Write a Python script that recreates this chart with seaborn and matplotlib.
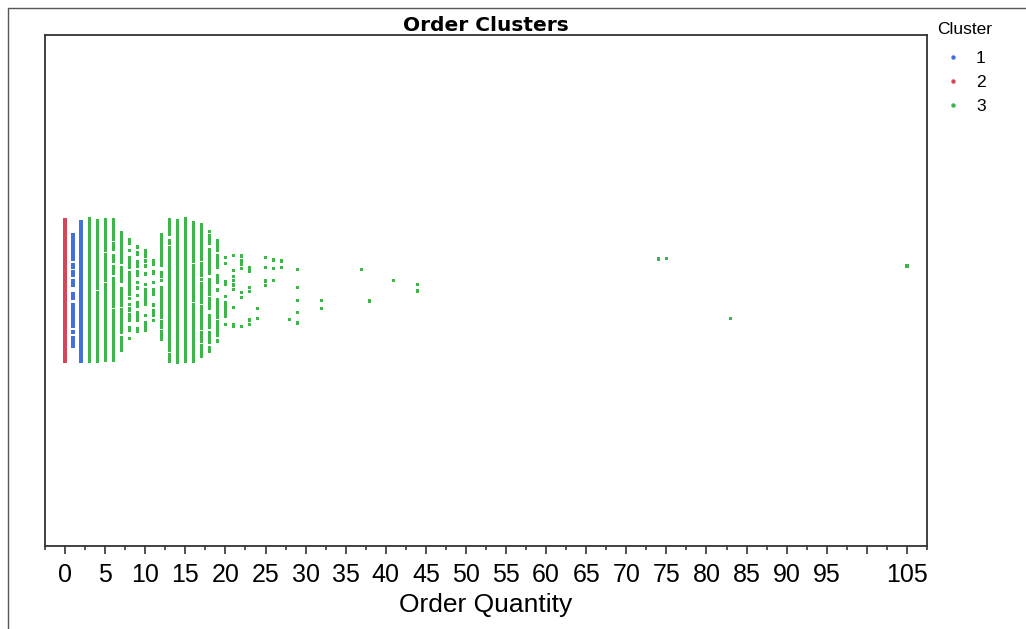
import numpy as np
import pandas as pd
import matplotlib
matplotlib.use("Agg")
import matplotlib.pyplot as plt
from matplotlib.lines import Line2D
from matplotlib.patches import Rectangle
from matplotlib.ticker import FixedLocator, FuncFormatter
import seaborn as sns

# Order quantities and the number of orders at each quantity, per cluster
qty_c1 = [1, 2]
cnt_c1 = [70, 200]
qty_c2 = [0]
cnt_c2 = [400]
qty_c3 = [3, 4, 5, 6, 7, 8, 9, 10, 11, 12, 13, 14, 15, 16, 17, 18, 19, 20, 21,
          22, 23, 24, 25, 26, 27, 28, 29, 32, 37, 38, 41, 44, 74, 75, 83, 105]
cnt_c3 = [200, 220, 200, 150, 80, 45, 35, 28, 14, 70, 150, 220, 250, 180, 130,
          80, 55, 18, 9, 7, 6, 2, 4, 3, 2, 1, 6, 2, 1, 1, 1, 2, 1, 1, 1, 1]

cluster_labels = ["1", "2", "3"]
tick_values = list(range(0, 110, 5))
tick_hidden = [100]

palette = {"1": "#4470DC", "2": "#D64558", "3": "#3DB54A"}

rows = []
for label, qtys, cnts in [("1", qty_c1, cnt_c1), ("2", qty_c2, cnt_c2), ("3", qty_c3, cnt_c3)]:
    for q, n in zip(qtys, cnts):
        rows.extend([(q, label)] * n)
orders = pd.DataFrame(rows, columns=["Order Quantity", "Cluster"])

# Jitter spread grows with the number of orders sharing a quantity
counts = orders["Order Quantity"].map(orders["Order Quantity"].value_counts())
orders["spread"] = (0.14 * np.clip((counts / 150) ** 0.3, 0.5, 1.0)).round(2)

sns.set_theme(style="white")
plt.rcParams["font.family"] = ["Liberation Sans", "DejaVu Sans"]
plt.rcParams["text.color"] = "black"
plt.rcParams["axes.labelcolor"] = "black"
plt.rcParams["xtick.color"] = "black"

fig = plt.figure(figsize=(10.26, 6.29), dpi=100)
ax = fig.add_axes([45 / 1026, 1 - 546 / 629, (927 - 45) / 1026, (546 - 35) / 629])

np.random.seed(5)
for spread, grp in orders.groupby("spread"):
    sns.stripplot(data=grp, x="Order Quantity", hue="Cluster", hue_order=cluster_labels,
                  palette=palette, orient="h", jitter=spread, marker="s", size=2.3,
                  linewidth=0, legend=False, ax=ax)

ax.set_xlim(-2.5, 107.5)
ax.set_ylim(-0.5, 0.5)
ax.set_yticks([])
ax.set_ylabel("")
ax.xaxis.set_major_locator(FixedLocator(tick_values))
ax.xaxis.set_minor_locator(FixedLocator(np.arange(-2.5, 110, 5)))
ax.xaxis.set_major_formatter(FuncFormatter(lambda v, p: "" if round(v) in tick_hidden else f"{v:g}"))
ax.tick_params(axis="x", which="major", direction="out", length=5.5, width=1.1,
               color="#222222", labelcolor="black", labelsize=18, pad=7, bottom=True)
ax.tick_params(axis="x", which="minor", direction="out", length=3, width=1.1,
               color="#222222", bottom=True)
ax.set_xlabel("Order Quantity", fontsize=19, labelpad=4, color="black")

for side in ["left", "right", "top", "bottom"]:
    ax.spines[side].set_visible(True)
    ax.spines[side].set_color("#333333")
    ax.spines[side].set_linewidth(1.3)

ax.set_title("Order Clusters", fontfamily="DejaVu Sans", fontweight="bold",
             fontsize=14.5, pad=3, color="black")

# Legend: heading placed on its own, entries indented below it
fig.text(937 / 1026, 1 - 29 / 629, "Cluster", fontsize=12.5, ha="left", va="center",
         color="black")
handles = [Line2D([], [], marker="o", ls="", color=palette[c], markersize=3.2,
                  markeredgewidth=0) for c in cluster_labels]
fig.legend(handles, cluster_labels, loc="upper left",
           bbox_to_anchor=(937 / 1026, 1 - 51 / 629), frameon=False,
           fontsize=12.5, handlelength=1.85, handletextpad=0.4, labelspacing=0.5,
           borderpad=0, borderaxespad=0)

fig.patches.append(Rectangle((7.5 / 1026, -0.05), 1.1, 1 - 7.5 / 629 + 0.05,
                             transform=fig.transFigure, fill=False,
                             edgecolor="#555555", linewidth=1.0))

fig.savefig("out.png", dpi=100)
